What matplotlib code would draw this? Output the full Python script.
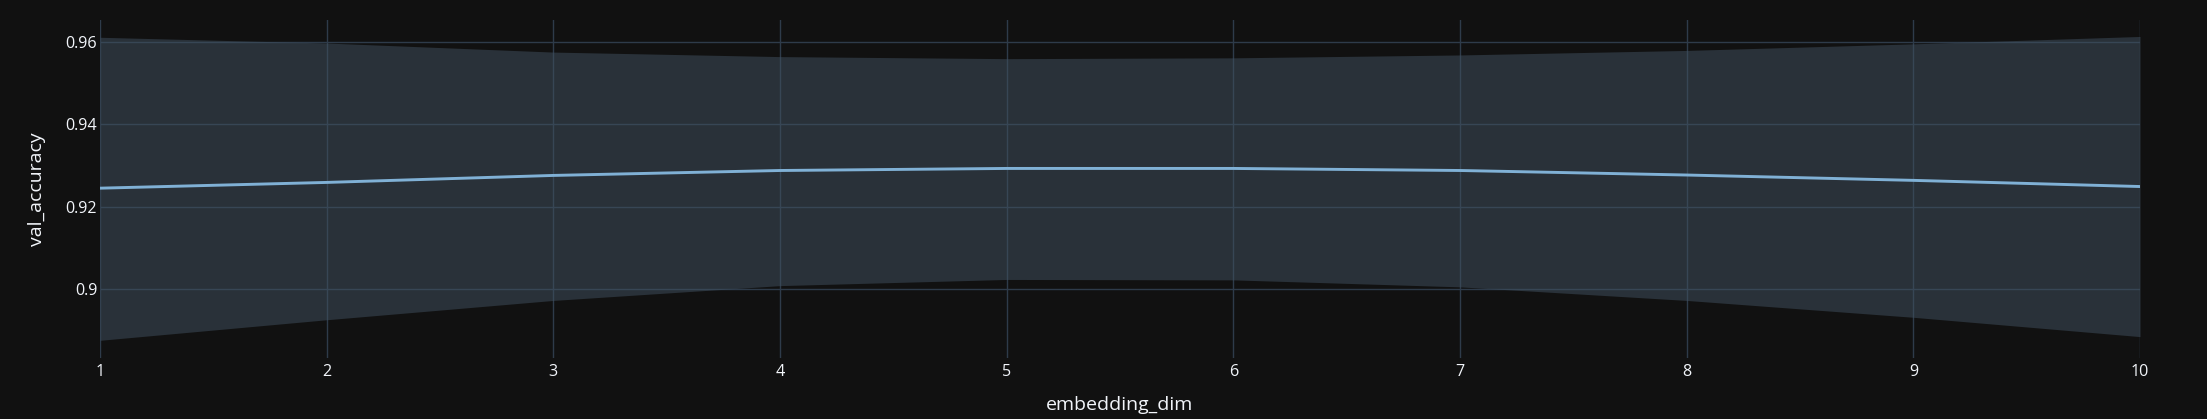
import matplotlib
matplotlib.use('Agg')
import matplotlib.pyplot as plt

# values
embedding_dim = [1, 2, 3, 4, 5, 6, 7, 8, 9, 10]
val_accuracy = [0.9245, 0.9259, 0.9276, 0.9288, 0.9293, 0.9293, 0.9288, 0.9277, 0.9264, 0.9249]
upper = [0.9612, 0.9598, 0.9576, 0.9565, 0.9560, 0.9562, 0.9569, 0.9580, 0.9596, 0.9614]
lower = [0.8875, 0.8925, 0.8972, 0.9008, 0.9023, 0.9022, 0.9005, 0.8972, 0.8931, 0.8884]

x_ticks = [1, 2, 3, 4, 5, 6, 7, 8, 9, 10]
y_ticks = [0.90, 0.92, 0.94, 0.96]
y_tick_labels = ['0.9', '0.92', '0.94', '0.96']

BG = '#111111'
TEXT = '#f2f5fa'

plt.rcParams['font.family'] = ['Open Sans', 'DejaVu Sans']

W, H = 2207, 419
fig = plt.figure(figsize=(W / 100, H / 100), dpi=100, facecolor=BG)
ax = fig.add_axes([100 / W, 1 - 358 / H, 2040 / W, 338 / H])
ax.set_facecolor(BG)

# grid under a translucent band, like the original
ax.grid(True, color='#2e3b4a', linewidth=1, zorder=0)
ax.set_axisbelow(True)
ax.fill_between(embedding_dim, lower, upper, color='#415161', alpha=0.5,
                linewidth=0, zorder=1)
ax.plot(embedding_dim, val_accuracy, color='#80b1d6', linewidth=2.1, zorder=3)

ax.set_xlim(1, 10)
ax.set_ylim(0.8832, 0.9654)
ax.set_xticks(x_ticks)
ax.set_yticks(y_ticks)
ax.set_yticklabels(y_tick_labels)

for s in ax.spines.values():
    s.set_visible(False)

ax.tick_params(axis='both', length=0, colors=TEXT, labelsize=11.6)
ax.tick_params(axis='x', pad=4)
ax.tick_params(axis='y', pad=2)

ax.set_xlabel('embedding_dim', color=TEXT, fontsize=14, labelpad=12)
ax.set_ylabel('val_accuracy', color=TEXT, fontsize=14, labelpad=14)

fig.savefig('out.png', dpi=100, facecolor=BG)
